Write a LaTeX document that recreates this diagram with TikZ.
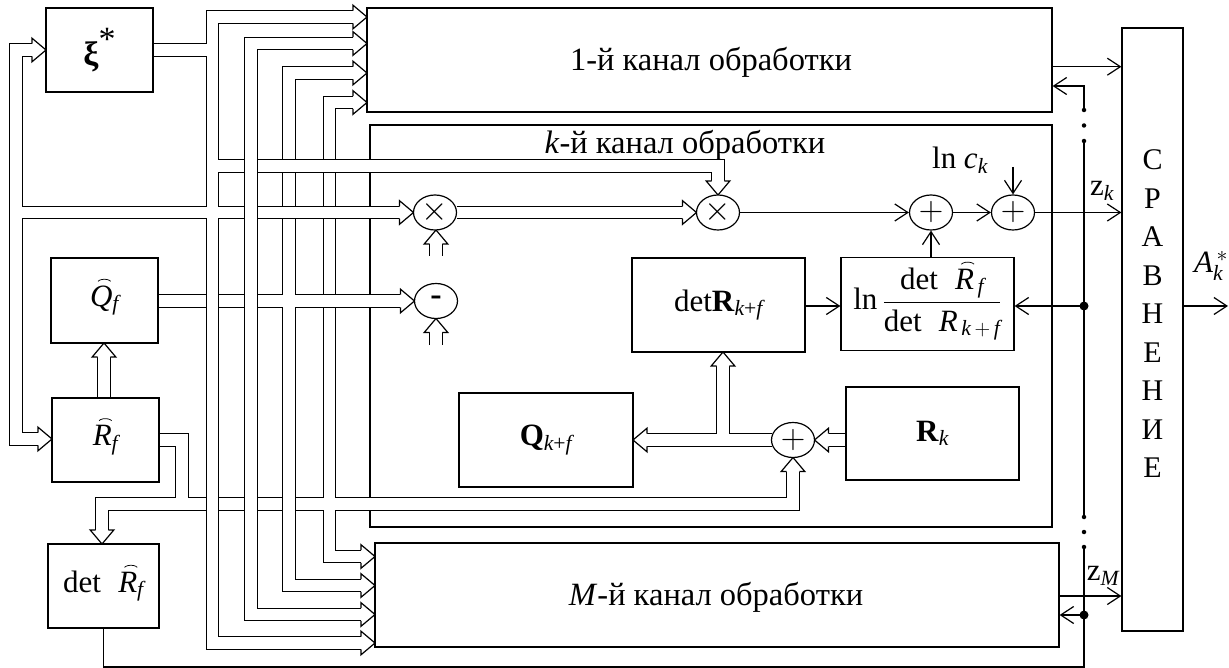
\RequirePackage{fix-cm}
\documentclass[tikz,border=0pt]{standalone}
\usepackage{amsmath}
\usepackage{fontspec}
\setmainfont{Liberation Serif}
\usetikzlibrary{shapes.geometric,arrows.meta}
\tikzset{
  blk/.style={draw, line width=1.2pt, inner sep=0pt, font=\fontsize{31}{36}\selectfont},
  ell/.style={draw, ellipse, line width=1.2pt, minimum width=43pt, minimum height=35pt, inner sep=0pt, fill=white, font=\fontsize{34}{38}\selectfont},
  busline/.style={line width=1.2pt, double=white, double distance=11.5pt, line join=miter},
  thinl/.style={line width=1.2pt},
  arrw/.style={line width=1.2pt, -{Straight Barb[length=13pt,width=17pt]}},
  sdot/.style={circle, fill, inner sep=0pt, minimum size=4.5pt},
  bdot/.style={circle, fill, inner sep=0pt, minimum size=9pt},
  bhead/.pic={\filldraw[fill=white, line width=1.2pt, line join=miter] (-14,6.35) -- (-14,11.8) -- (0,0) -- (-14,-11.8) -- (-14,-6.35);},
  lbl/.style={inner sep=0pt, font=\fontsize{31}{36}\selectfont},
  chl/.style={inner sep=0pt, font=\fontsize{32.5}{38}\selectfont},
}
\newcommand{\arcover}[1]{\ooalign{#1\cr\hidewidth\kern0.2em\raisebox{0.8em}{\tikz[baseline=0pt]\draw[line width=0.75pt] (0pt,0pt) arc[start angle=155, end angle=25, x radius=7pt, y radius=3.6pt];}\hidewidth\cr}}
\begin{document}
\begin{tikzpicture}[x=1pt,y=-1pt]
\useasboundingbox (0,0) rectangle (1229,668);
% k-th channel frame (buses pass over its edge)
\node[blk, minimum width=682pt, minimum height=402pt] (chk) at (711,326) {};

% ---- bus D (from R^_f) ----
\draw[busline] (353,102.5) -- (329.5,102.5) -- (329.5,556.5) -- (361,556.5)
  (159,440) -- (182,440) -- (182,504) -- (793,504) -- (793,471.5)
  (182,504) -- (102,504) -- (102,530);
\pic at (367,102.5) {bhead};
\pic at (375,556.5) {bhead};
\pic[rotate=90] at (793,457.5) {bhead};
\pic[rotate=-90] at (102,544) {bhead};

% ---- bus C (from Q^_f) ----
\draw[busline] (353,73) -- (289,73) -- (289,585.5) -- (361,585.5)
  (158,301) -- (400,301);
\pic at (367,73) {bhead};
\pic at (375,585.5) {bhead};
\pic at (414.5,301) {bhead};

% ---- bus A (from xi*) ----
\draw[busline] (353,17) -- (212.5,17) -- (212.5,643) -- (361,643)
  (153,50) -- (212.5,50)
  (212.5,166) -- (718,166) -- (718,181)
  (16,212.5) -- (399.5,212.5)
  (32,50) -- (16,50) -- (16,439) -- (38,439);
\pic at (367,17) {bhead};
\pic at (375,643) {bhead};
\pic[rotate=-90] at (718,195) {bhead};
\pic at (413.5,212.5) {bhead};
\pic at (46,50) {bhead};
\pic at (52,439) {bhead};

% ---- bus B ----
\draw[busline] (353,43.5) -- (251,43.5) -- (251,614.5) -- (361,614.5);
\pic at (367,43.5) {bhead};
\pic at (375,614.5) {bhead};

% ---- R^_f -> Q^_f ----
\draw[busline] (104,398) -- (104,357);
\pic[rotate=90] at (104,343) {bhead};

% ---- inner buses of k-th channel ----
\draw[busline] (456.5,212.5) -- (682.5,212.5);
\pic at (696.5,212.5) {bhead};
\draw[busline] (436,256) -- (436,244);
\pic[rotate=90] at (436,230) {bhead};
\draw[busline] (436,345) -- (436,332.5);
\pic[rotate=90] at (436,318.5) {bhead};
\draw[busline] (771.5,440) -- (647,440) (723,440) -- (723,366);
\pic[rotate=180] at (633,440) {bhead};
\pic[rotate=90] at (723,352) {bhead};
\draw[busline] (846,440) -- (828.5,440);
\pic[rotate=180] at (814.5,440) {bhead};

% ---- blocks ----
\node[blk, minimum width=107pt, minimum height=84pt, font=\fontsize{34}{38}\selectfont] (xi) at (99.5,50) {\textbf{ξ}\raisebox{0.42em}{*}};
\node[blk, minimum width=685pt, minimum height=104pt] (ch1) at (709.5,60) {};
\node[blk, minimum width=684pt, minimum height=104pt] (chM) at (717,595) {};
\node[blk, minimum width=61pt, minimum height=603pt] (cmp) at (1152.5,329.5) {};
\node[blk, minimum width=107pt, minimum height=85pt] (Qf) at (104.5,300.5) {\arcover{\textit{Q}}$_{\textit{f}}$};
\node[blk, minimum width=107pt, minimum height=84pt] (Rf) at (105.5,440) {\arcover{\textit{R}}$_{\textit{f}}$};
\node[blk, minimum width=111pt, minimum height=84pt] (dRf) at (103.5,586) {det\;\;\arcover{\textit{R}}$_{\textit{f}}$};
\node[blk, minimum width=173pt, minimum height=94pt] (dRk) at (718.5,305) {det\textbf{R}$_{\textit{k}\text{+}\textit{f}}$};
\node[blk, minimum width=173pt, minimum height=93pt] (lnb) at (927.5,304) {ln\,$\dfrac{\text{det}\;\;\mbox{\arcover{\textit{R}}}_{\,\textit{f}}}{\text{det}\;\;\textit{R}_{\,\textit{k}\,+\,\textit{f}}}$};
\node[blk, minimum width=174pt, minimum height=94pt] (Qk) at (546,440) {\textbf{Q}$_{\textit{k}\text{+}\textit{f}}$};
\node[blk, minimum width=173pt, minimum height=93pt] (Rk) at (932.5,433.5) {\textbf{R}$_{\textit{k}}$};

\node[ell] (m1) at (435,212.5) {$\times$};
\node[ell] (m2) at (718,212.5) {$\times$};
\node[ell] (mn) at (436,301) {\textbf{-}};
\node[ell] (p1) at (931,212.5) {$+$};
\node[ell] (p2) at (1013,212.5) {$+$};
\node[ell] (p3) at (793,440) {$+$};

% ---- labels ----
\node[chl] (t1) at (711,62) {1-й канал обработки};
\node[chl] (tk) at (685,145) {\textit{k}-й канал обработки};
\node[chl] (tM) at (716,597) {\textit{M}-й канал обработки};
\node[lbl] (tck) at (960,160) {ln \textit{c}$_{\textit{k}}$};
\node[lbl] (tzk) at (1102,191) {z$_{\textit{k}}$};
\node[lbl] (tzM) at (1103,576) {z$_{\textit{M}}$};
\node[lbl] (tA) at (1211,266) {\textit{A}$_{\textit{k}}^{\,*}$};
\node[inner sep=0pt, align=center, font=\fontsize{30}{38.5}\selectfont] (tcmp) at (cmp.center |- 0,314) {С\\Р\\А\\В\\Н\\Е\\Н\\И\\Е};

% ---- single-line connections ----
\coordinate (ck) at (1013,167);
\coordinate (j1) at (1084,306);
\coordinate (j2) at (1084,615);
\coordinate (c1in) at (1084,86);
\coordinate (c1out) at (1084,66.7);
\coordinate (zMo) at (1084,596);
\coordinate (fb0) at (dRf.south |- 0,667);
\coordinate (fb1) at (1084,667);
\coordinate (Aout) at (1228,306);

\draw[arrw] (m2.east) -- (p1.west);
\draw[arrw] (p1.east) -- (p2.west);
\draw[arrw] (p2.east) -- (p2.east -| cmp.west);
\draw[arrw] (ck) -- (p2.north);
\draw[arrw] (p1.south |- lnb.north) -- (p1.south);
\draw[arrw] (dRk.east |- j1) -- (lnb.west |- j1);
\draw[arrw] (j1) -- (lnb.east |- j1);
\draw[arrw] (j2) -- (chM.east |- j2);
\draw[arrw] (chM.east |- zMo) -- (cmp.west |- zMo);
\draw[arrw] (ch1.east |- c1out) -- (cmp.west |- c1out);
\draw[arrw] (cmp.east |- j1) -- (Aout);
\draw[thinl] (dRf.south) -- (fb0) -- (fb1) -- (1084,547);
\draw[thinl] (1084,517) -- (1084,141);
\draw[arrw] (1084,110) -- (c1in) -- (ch1.east |- c1in);
\node[sdot] (d1) at (1084,110) {};
\node[sdot] (d2) at (1084,125.5) {};
\node[sdot] (d3) at (1084,141) {};
\node[sdot] (d4) at (1084,517) {};
\node[sdot] (d5) at (1084,532) {};
\node[sdot] (d6) at (1084,547) {};
\node[bdot] (b1) at (j1) {};
\node[bdot] (b2) at (j2) {};
\end{tikzpicture}
\end{document}
